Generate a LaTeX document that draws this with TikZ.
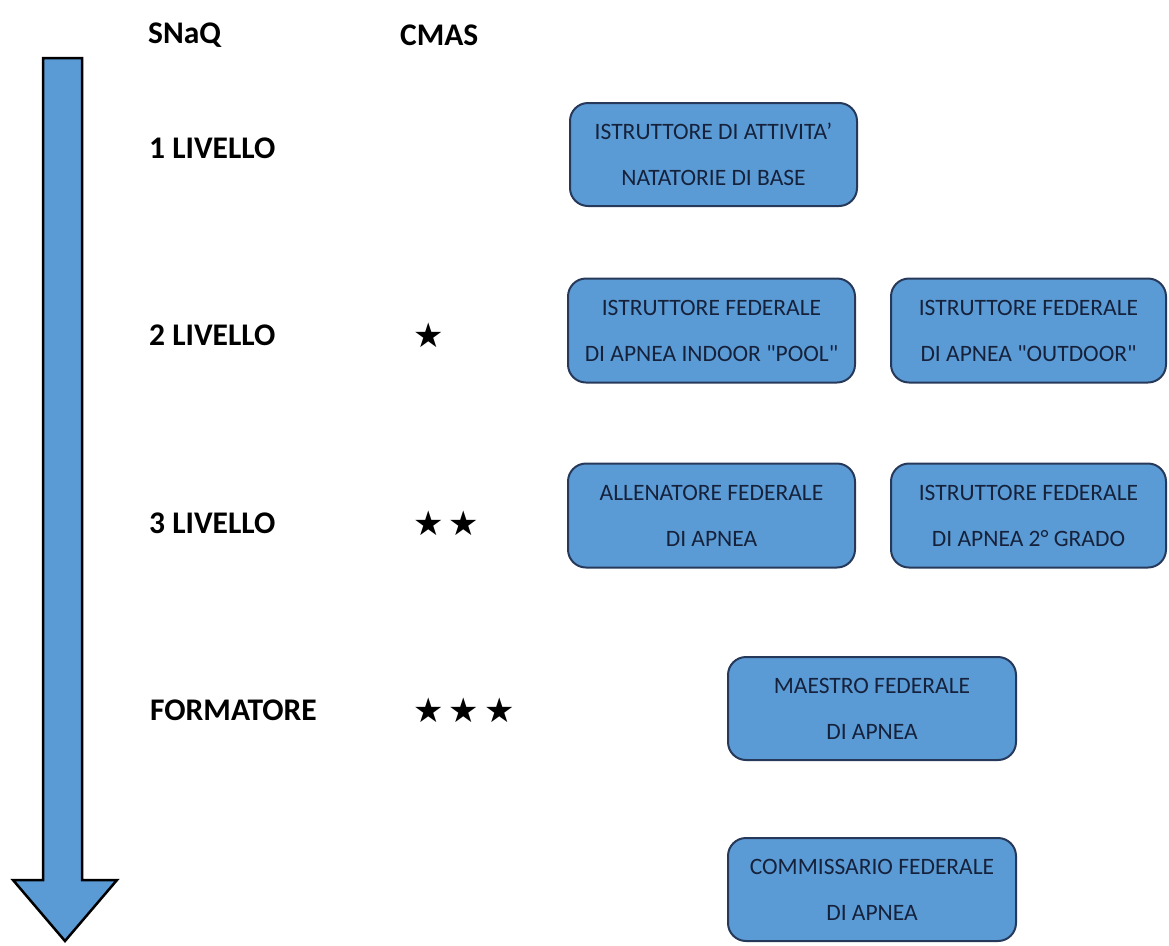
\documentclass[tikz,border=0pt]{standalone}
\usepackage{fontspec}
\setmainfont{Carlito}
\newfontfamily\symfont{DejaVu Sans}
\definecolor{boxfill}{HTML}{5B9BD5}
\definecolor{boxline}{HTML}{27395A}
\definecolor{boxtext}{HTML}{16223C}
\newcommand{\dq}{\textquotedbl}
\tikzset{
  role/.style={draw=boxline, line width=2pt, fill=boxfill, rounded corners=18pt,
    text=boxtext, align=center, inner sep=0pt,
    font=\fontsize{23.5}{46}\selectfont},
  lvl/.style={anchor=west, inner sep=0pt, font=\bfseries\fontsize{31.5}{32}\selectfont},
  stars/.style={anchor=west, inner sep=0pt, font=\symfont\fontsize{34}{34}\selectfont},
  bigarrow/.style={draw=black, line width=2.5pt, fill=boxfill, line join=miter}
}
\begin{document}
\begin{tikzpicture}[x=1pt,y=-1pt]
\useasboundingbox (0,0) rectangle (1169,945);
% big arrow
\draw[bigarrow] (43,58) -- (82,58) -- (82,880) -- (117,880) -- (65,941) -- (13,880) -- (43,880) -- cycle;
% headers
\node[lvl] (snaq) at (148,35) {SNaQ};
\node[lvl] (cmas) at (400,35) {CMAS};
% levels
\node[lvl] (l1) at (149,148) {1 LIVELLO};
\node[lvl] (l2) at (149,335) {2 LIVELLO};
\node[lvl] (l3) at (149,523) {3 LIVELLO};
\node[lvl] (l4) at (150,710) {FORMATORE};
% stars
\node[stars] (s1) at (413,335) {★};
\node[stars] (s2) at (413,523) {★\hspace{5pt}★};
\node[stars] (s3) at (413,710) {★\hspace{5pt}★\hspace{5pt}★};
% boxes
\node[role, minimum width=287pt, minimum height=103pt] (b1) at (713.5,154.5) {ISTRUTTORE DI ATTIVITA'\\NATATORIE DI BASE};
\node[role, minimum width=287pt, minimum height=104pt] (b2l) at (711.5,330.5) {ISTRUTTORE FEDERALE\\DI APNEA INDOOR \dq POOL\dq};
\node[role, minimum width=275pt, minimum height=104pt] (b2r) at (1028.5,330.5) {ISTRUTTORE FEDERALE\\DI APNEA \dq OUTDOOR\dq};
\node[role, minimum width=287pt, minimum height=104pt] (b3l) at (711.5,515.5) {ALLENATORE FEDERALE\\DI APNEA};
\node[role, minimum width=275pt, minimum height=104pt] (b3r) at (1028.5,515.5) {ISTRUTTORE FEDERALE\\DI APNEA 2° GRADO};
\node[role, minimum width=288pt, minimum height=103pt] (b4) at (872,708.5) {MAESTRO FEDERALE\\DI APNEA};
\node[role, minimum width=288pt, minimum height=103pt] (b5) at (872,889.5) {COMMISSARIO FEDERALE\\DI APNEA};
\end{tikzpicture}
\end{document}
